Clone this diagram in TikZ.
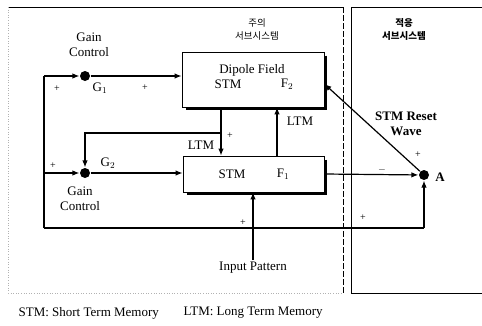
\documentclass[tikz,border=0pt]{standalone}
\usepackage{fontspec}
\setmainfont{Liberation Serif}
\newfontfamily\kr{Noto Sans CJK KR}
\usetikzlibrary{arrows.meta,calc}
\begin{document}
\begin{tikzpicture}[x=1pt,y=-1pt,line width=1.2pt,
  txt/.style={font=\fontsize{13}{15}\selectfont,inner sep=0pt,align=center},
  btxt/.style={font=\fontsize{13}{15}\selectfont\bfseries,inner sep=0pt,align=center},
  krt/.style={font=\kr\fontsize{9.5}{13}\selectfont,inner sep=0pt,align=center},
  pm/.style={font=\fontsize{10}{11}\selectfont,inner sep=0pt},
  blk/.style={draw,fill=white,line width=0.8pt,inner sep=0pt},
  dot/.style={circle,fill=black,minimum size=10pt,inner sep=0pt},
  arr/.style={-{Latex[length=7pt,width=5.5pt]}},
  shadow/.style={line width=3pt}]
\useasboundingbox (0,0) rectangle (482,325);
% panels
\draw[line width=0.9pt] (8,7) -- (343,7);
\draw[dash pattern=on 6pt off 2pt,line width=0.8pt] (343,7) -- (343,293);
\draw[gray!60,dotted,line width=0.6pt] (8,7) -- (8,293) -- (343,293);
\draw[line width=0.9pt] (482,7) -- (351,7) -- (351,293) -- (482,293);
% titles
\node[krt] (t1) at (257,29) {주의\\서브시스템};
\node[krt,font=\kr\bfseries\fontsize{9.5}{13}\selectfont] (t2) at (404,29) {적응\\서브시스템};
% blocks
\node[blk,minimum width=142pt,minimum height=55pt] (dip) at (253,79.5) {};
\draw[shadow] ([shift={(1.5pt,-4pt)}]dip.north east) -- ([shift={(1.5pt,-1.5pt)}]dip.south east) -- ([shift={(4pt,-1.5pt)}]dip.south west);
\node[txt] (dipt) at (252,70) {Dipole Field};
\node[txt] (dips) at (228,84) {STM};
\node[txt] (dipf) at (287,84) {F$_2$};
\node[blk,minimum width=141pt,minimum height=36pt] (stm) at (253.5,174) {};
\draw[shadow] ([shift={(1.5pt,-4pt)}]stm.north east) -- ([shift={(1.5pt,-1.5pt)}]stm.south east) -- ([shift={(4pt,-1.5pt)}]stm.south west);
\node[txt] (stms) at (232,174) {STM};
\node[txt] (stmf) at (283,174) {F$_1$};
% gain controls
\node[dot] (G1) at (85,76) {};
\node[dot] (G2) at (85,173) {};
\node[dot] (A) at (424,175) {};
\node[btxt] (Al) at (440,177) {A};
\node[txt] (gc1) at (89,45) {Gain\\Control};
\node[txt] (gc2) at (80,199) {Gain\\Control};
\node[txt] (g1l) at (100,88) {G$_1$};
\node[txt] (g2l) at (108,163) {G$_2$};
% coordinates
\coordinate (L1) at (44,76);
\coordinate (L2) at (44,173);
\coordinate (LB) at (44,228);
\coordinate (RB) at (424,228);
\coordinate (ld) at (221,0);
\coordinate (lu) at (277,0);
\coordinate (br) at (221,133);
% connectors
\draw (LB) -- (L1);
\draw[arr] (L1) -- (G1);
\draw[arr] (G1) -- (G1 -| dip.west);
\draw[arr] (L2) -- (G2);
\draw[arr] (G2) -- (G2 -| stm.west);
\draw (LB) -- (RB);
\draw[arr] (RB) -- (A);
\draw[arr] (dip.south -| ld) -- (stm.north -| ld);
\draw[arr] (br) -| (G2);
\draw[arr] (stm.north -| lu) -- (dip.south -| lu);
\node[txt] (inp) at (253,268) {Input Pattern};
\draw[arr] ([yshift=2pt]inp.north) -- (stm.south -| inp.north);
\draw[arr] (stm.east) -- (A);
\draw[arr] (A) -- ($(dip.north east)!0.58!(dip.south east)$);
% labels
\node[txt] (ltm1) at (201,145) {LTM};
\node[txt] (ltm2) at (300,121) {LTM};
\node[btxt] (rw) at (406,124) {STM Reset\\Wave};
\node[pm] (p1) at (57,89) {+};
\node[pm] (p2) at (145,88) {+};
\node[pm] (p3) at (230,136) {+};
\node[pm] (p4) at (53,166) {+};
\node[pm] (p5) at (243,223) {+};
\node[pm] (p6) at (363,218) {+};
\node[pm] (p7) at (418,155) {+};
\node[pm] (m1) at (382,170) {$-$};
% footer
\node[txt,anchor=west] (f1) at (18,313) {STM: Short Term Memory};
\node[txt,anchor=west] (f2) at (183,313) {LTM: Long Term Memory};
\end{tikzpicture}
\end{document}
